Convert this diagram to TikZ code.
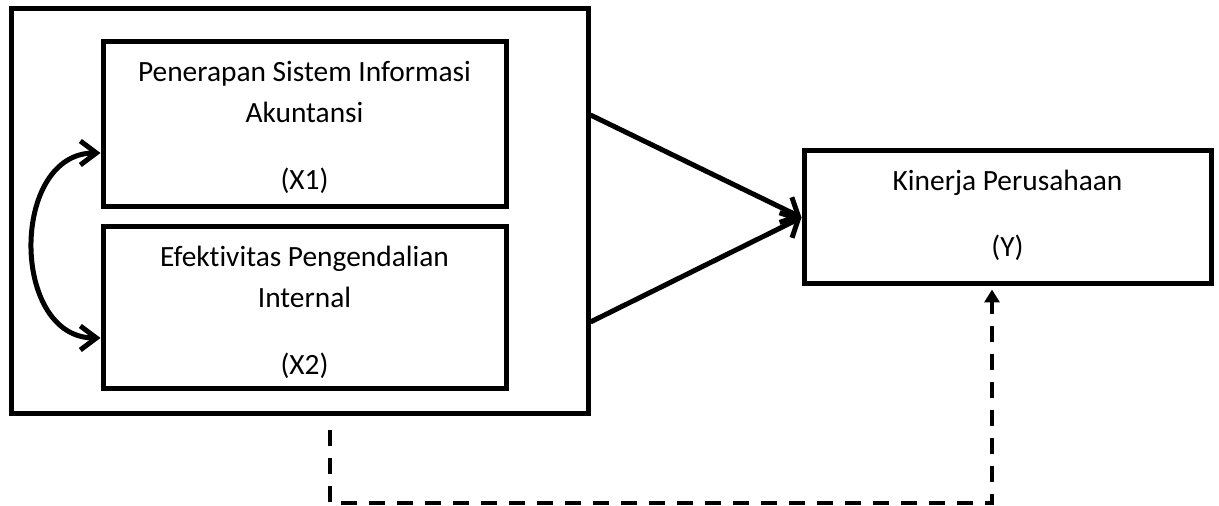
\documentclass[tikz,border=0pt]{standalone}
\usepackage{fontspec}
\setmainfont{Carlito}[Ligatures=CommonOff]
\usetikzlibrary{arrows.meta, calc}

\newcommand{\boxtext}[3]{\parbox[t][#2][t]{#1}{\centering\rule{0pt}{20pt}#3}}

\begin{document}
\begin{tikzpicture}[x = 0.5pt, y = -0.5pt,
    var/.style = {draw, line width = 2.5pt, inner sep = 0pt, font = \fontsize{14.7}{20.5}\selectfont},
    link/.style = {line width = 2.5pt, -{Straight Barb[length = 7pt, width = 14pt]}},
    corr/.style = {line width = 2.5pt, {Straight Barb[length = 8pt, width = 12pt]}-{Straight Barb[length = 8pt, width = 12pt]}},
    moder/.style = {line width = 2pt, dash pattern = on 8pt off 6pt, shorten > = 1.5pt, -{Triangle[length = 6.5pt, width = 7.5pt]}}]
  \useasboundingbox (0,0) rectangle (1219,506);
  \node[var, minimum width = 288.5pt, minimum height = 202.5pt] (grp) at (299.5,211.5) {};
  \node[var] (x1) at (304.5,124.5) {\boxtext{201.5pt}{82.5pt}{Penerapan Sistem Informasi\\Akuntansi\\[13pt](X1)}};
  \node[var] (x2) at (304.5,308) {\boxtext{201.5pt}{81pt}{Efektivitas Pengendalian\\Internal\\[13pt](X2)}};
  \node[var] (kin) at (1007.5,217.5) {\boxtext{203.5pt}{66.5pt}{Kinerja Perusahaan\\[12.5pt](Y)}};
  \path[link] ($(grp.east)+(0,-96.5)$) edge (kin.west)
              ($(grp.east)+(0,110.5)$) edge (kin.west);
  \draw[corr] ($(x1.west)+(0,28.5)$) .. controls (10,153) and (10,338) .. ($(x2.west)+(0,30)$);
  \coordinate (dtop) at (330,430);
  \coordinate (dbot) at (330,503);
  \draw[moder] (dtop) -- (dbot) -| ($(kin.south)+(-15.5,0)$);
\end{tikzpicture}
\end{document}
